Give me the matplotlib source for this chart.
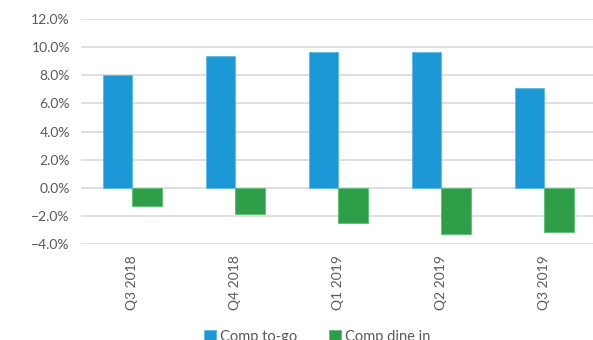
import matplotlib.pyplot as plt
import numpy as np
from matplotlib.ticker import FuncFormatter

quarters = ["Q3 2018", "Q4 2018", "Q1 2019", "Q2 2019", "Q3 2019"]
comp_to_go = [8.0, 9.38, 9.64, 9.69, 7.09]
comp_dine_in = [-1.26, -1.88, -2.5, -3.31, -3.17]

plt.rcParams['font.family'] = ['Lato', 'DejaVu Sans']

fig = plt.figure(figsize=(5.93, 3.40), dpi=100)
ax = fig.add_axes([0.1366, 0.282, 0.868, 0.662])

x = np.arange(len(quarters))
w = 0.286
ax.bar(x - w / 2, comp_to_go, w, color='#1B98D5', edgecolor='#5BB8E6', linewidth=0.6,
       label='Comp to-go', zorder=3)
ax.bar(x + w / 2, comp_dine_in, w, color='#2E9E48', edgecolor='#5CBF72', linewidth=0.6,
       label='Comp dine in', zorder=3)

ax.set_xlim(-0.5, len(quarters) - 0.5)
ax.set_ylim(-4, 12)
ax.set_yticks(np.arange(-4, 13, 2))
ax.yaxis.set_major_formatter(FuncFormatter(lambda v, p: f"{v:.1f}%".replace('-', '\u2212')))
ax.set_xticks(x)
ax.set_xticklabels(quarters, rotation=90)
ax.tick_params(axis='both', length=0, labelsize=10, colors='#595959')
ax.tick_params(axis='x', pad=8)
ax.tick_params(axis='y', pad=8)
ax.grid(axis='y', color='#D9D9D9', linewidth=1.2, zorder=0)
for s in ax.spines.values():
    s.set_visible(False)

fig.legend(loc='center', bbox_to_anchor=(0.535, 0.01), ncol=2, frameon=False,
           fontsize=10.5, handlelength=0.8, handleheight=0.8, handletextpad=0.3,
           columnspacing=2.2, labelcolor='#595959')

fig.savefig('out.png', dpi=100)
